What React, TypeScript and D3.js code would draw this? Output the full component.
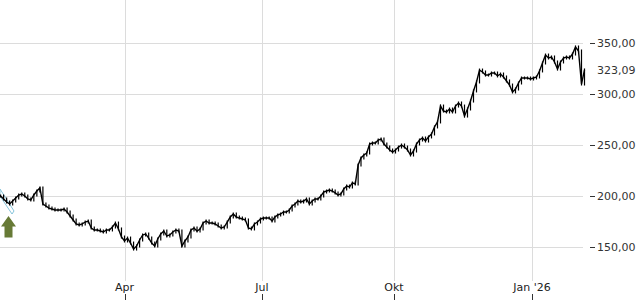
import React from "react";
import * as d3 from "d3";

// ---- data ----
const startDate = new Date(2025, 0, 9);
const stepDays = 2;
const closes: number[] = [
  199.5, 196.6, 193.6, 191.7, 194.6, 197.5, 200.5, 201.5, 199.5, 196.6,
  195.6, 200.5, 204.4, 207.4, 191.7, 189.7, 187.7, 186.8, 185.8, 185.8,
  185.8, 186.8, 183.8, 179.9, 176.0, 172.1, 171.1, 172.1, 174.0, 175.0,
  168.1, 166.2, 166.2, 165.2, 164.2, 166.2, 166.2, 169.1, 173.0, 167.2,
  159.3, 155.4, 158.3, 153.4, 147.5, 150.5, 156.4, 161.3, 162.3, 158.3,
  153.4, 150.5, 157.4, 162.3, 165.2, 160.3, 161.3, 164.2, 166.2, 165.2,
  150.5, 155.4, 159.3, 166.2, 168.1, 165.2, 167.2, 173.0, 175.0, 173.0,
  173.0, 172.1, 170.1, 168.1, 169.1, 174.0, 178.9, 181.9, 178.9, 177.9,
  177.0, 176.0, 168.1, 167.2, 172.1, 174.0, 177.0,
  177.9, 177.9, 177.9, 175.0, 178.9, 180.9, 181.9, 183.8, 183.8, 185.8,
  189.7, 191.7, 194.6, 193.6, 194.6, 196.6, 191.7, 194.6, 196.6, 196.6,
  199.5, 203.4, 204.4, 205.4, 204.4, 202.5, 200.5, 201.5, 206.4, 209.3,
  208.3, 212.3, 211.3, 229.9, 236.8, 239.7, 241.7, 250.5, 251.5, 251.5,
  254.4, 255.4, 250.5, 247.5, 244.6, 242.6,
  244.6, 247.5, 249.5, 247.5, 244.6, 239.7, 243.6, 250.5, 254.4, 256.4,
  253.4, 257.4, 260.3, 267.2, 272.1, 287.7, 282.8, 281.9, 284.8, 281.9,
  287.7, 290.7, 287.7, 277.9, 284.8, 292.6, 302.5, 311.3, 323.0, 321.1,
  318.1, 318.1, 320.1, 320.1, 317.2, 319.1, 316.2, 312.3, 308.3, 301.5,
  304.4, 310.3, 315.2, 315.2, 315.2, 314.2, 315.2, 316.2, 322.1, 329.9,
  337.7, 334.8, 335.8, 330.9, 324.0, 330.9, 334.8, 335.8, 334.8, 338.7,
  345.6, 341.7, 309.3, 323.09,
];
const yTicks = [150, 200, 250, 300, 350];
const xTickDates = [new Date(2025, 3, 1), new Date(2025, 6, 1), new Date(2025, 9, 1), new Date(2026, 0, 1)];
const xTickLabels = ["Apr", "Jul", "Okt", "Jan '26"];
const lastPrice = 323.09;

const W = 640;
const H = 300;

const de = d3.formatLocale({ decimal: ",", thousands: ".", grouping: [3], currency: ["", " €"] });
const fmt = de.format(".2f");

export default function App() {
  const data = closes.map((v, i) => ({ date: d3.timeDay.offset(startDate, i * stepDays), v }));

  const x = d3
    .scaleTime()
    .domain([new Date(2025, 0, 1), new Date(2025, 3, 1), new Date(2025, 6, 1), new Date(2025, 9, 1), new Date(2026, 0, 1), new Date(2026, 1, 15)])
    .range([-11.5, 124.5, 262, 394, 532, 599.5]);
  const y = d3.scaleLinear().domain([150, 350]).range([246.5, 42.5]);

  const plotRight = 583;
  const plotBottom = 281;

  const line = d3
    .line<{ date: Date; v: number }>()
    .x((d) => x(d.date))
    .y((d) => y(d.v));

  const font = "'DejaVu Sans', Verdana, sans-serif";

  return (
    <svg width={W} height={H} style={{ position: "absolute", left: 0, top: 0, background: "#fff" }}>
      {/* horizontal grid */}
      {yTicks.map((t) => (
        <g key={t}>
          <line x1={0} x2={plotRight} y1={Math.round(y(t)) + 0.5} y2={Math.round(y(t)) + 0.5} stroke="#dcdcdc" strokeWidth={1} />
          <line x1={590} x2={595} y1={Math.round(y(t)) + 0.5} y2={Math.round(y(t)) + 0.5} stroke="#333" strokeWidth={1} />
          <text x={597} y={y(t) + 4} fontSize={11} fill="#333" fontFamily={font}>
            {fmt(t)}
          </text>
        </g>
      ))}
      {/* vertical grid */}
      {xTickDates.map((d, i) => (
        <g key={i}>
          <line x1={Math.round(x(d)) + 0.5} x2={Math.round(x(d)) + 0.5} y1={0} y2={plotBottom} stroke="#dcdcdc" strokeWidth={1} />
          <line x1={Math.round(x(d)) + 0.5} x2={Math.round(x(d)) + 0.5} y1={294} y2={300} stroke="#333" strokeWidth={1} />
          <text x={x(d)} y={291} fontSize={11} fill="#222" textAnchor="middle" fontFamily={font}>
            {xTickLabels[i]}
          </text>
        </g>
      ))}
      {/* trend band */}
      <polygon points="0,189 14,211 12,214 0,196" fill="none" stroke="#86c4da" strokeWidth={1} />
      {/* price bars (open = previous close) */}
      {data.map((d, i) => {
        const prev = i > 0 ? data[i - 1].v : d.v;
        const top = y(Math.max(prev, d.v)) - 1.5;
        const bot = y(Math.min(prev, d.v)) + 1.5;
        return <line key={i} x1={x(d.date)} x2={x(d.date)} y1={top} y2={bot} stroke="#000" strokeWidth={1.2} />;
      })}
      {/* price line */}
      <path d={line(data) || ""} fill="none" stroke="#000" strokeWidth={1.4} strokeLinejoin="miter" />
      {/* last price label */}
      <text x={597} y={y(lastPrice) + 4} fontSize={11} fill="#333" fontFamily={font}>
        {fmt(lastPrice)}
      </text>
      {/* buy arrow */}
      <polygon points="8.5,216 16,226.5 12.5,226.5 12.5,237.5 4.5,237.5 4.5,226.5 1,226.5" fill="#677a36" />
    </svg>
  );
}
